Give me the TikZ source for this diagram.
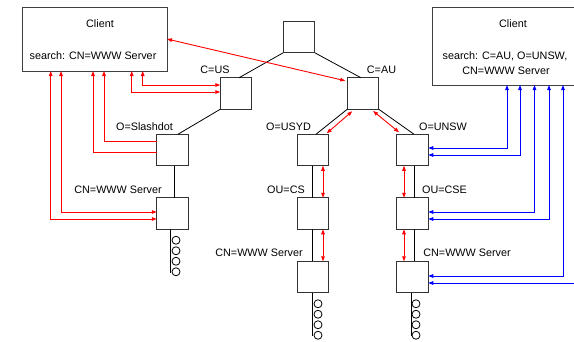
\documentclass[tikz,border=0pt]{standalone}
\usepackage{fontspec}
\setmainfont{Liberation Sans}
\usetikzlibrary{arrows.meta,calc}
\begin{document}
\begin{tikzpicture}[x=1pt,y=-1pt,
  box/.style={draw=black!80,line width=0.9pt,minimum width=31.5pt,minimum height=31.5pt,inner sep=0pt,outer sep=0pt},
  client/.style={draw=black!75,line width=0.95pt,inner sep=0pt,outer sep=0pt},
  lbl/.style={anchor=base,inner sep=0pt,font=\fontsize{10.8}{13}\selectfont},
  tree/.style={draw=black,line width=0.8pt},
  rarr/.style={draw=red,line width=0.9pt,>={Triangle[length=5pt,width=3.6pt]}},
  barr/.style={draw=blue,line width=0.9pt,>={Triangle[length=5pt,width=3.6pt]}},
  leaf/.style={draw=black,line width=0.8pt}]
\useasboundingbox (0,0) rectangle (574,341);
\clip (0,0) rectangle (574,341);
\fill[white] (0,0) rectangle (574,341);
% client boxes
\node[client,minimum width=145pt,minimum height=64pt] (clientL) at (94.5,39) {};
\node[client,minimum width=148pt,minimum height=78pt] (clientR) at (506,46) {};
\node[lbl] (clientLt) at (100,27.8) {Client};
\node[lbl] (clientLs) at (93,59.8) {search: CN=WWW Server};
\node[lbl] (clientRt) at (513,27.8) {Client};
\node[lbl] (clientRs1) at (505,59.8) {search: C=AU, O=UNSW,};
\node[lbl] (clientRs2) at (506,74.1) {CN=WWW Server};
% tree boxes
\node[box] (root) at (299,37) {};
\node[box] (cus) at (236,93.5) {};
\node[box] (cau) at (363,93.5) {};
\node[box] (slash) at (172.5,150) {};
\node[box] (cnL) at (172.5,213.5) {};
\node[box] (usyd) at (313,150) {};
\node[box] (cs) at (313,213.5) {};
\node[box] (cnM) at (313,277) {};
\node[box] (unsw) at (412.5,150) {};
\node[box] (cse) at (412.5,213.5) {};
\node[box] (cnR) at (412.5,277) {};
% labels
\node[lbl] (lcus) at (215,73.8) {C=US};
\node[lbl] (lcau) at (381.5,73.8) {C=AU};
\node[lbl] (lslash) at (144.5,130.8) {O=Slashdot};
\node[lbl] (lcnL) at (118,193.8) {CN=WWW Server};
\node[lbl] (lusyd) at (288.5,130.8) {O=USYD};
\node[lbl] (lunsw) at (443,130.8) {O=UNSW};
\node[lbl] (lcs) at (286,193.8) {OU=CS};
\node[lbl] (lcse) at (444.5,193.8) {OU=CSE};
\node[lbl] (lcnM) at (259,256.8) {CN=WWW Server};
\node[lbl] (lcnR) at (467,256.8) {CN=WWW Server};
% tree lines
\draw[tree] (root.south west) -- ([xshift=3pt]cus.north);
\draw[tree] (root.south east) -- ([xshift=-2pt]cau.north);
\draw[tree] (cus.south west) -- ([xshift=5.5pt]slash.north);
\draw[tree] ([xshift=1.5pt]slash.south) -- ([xshift=1.5pt]cnL.north);
\draw[tree] ([xshift=-2pt]cnL.south) -- ++(0,44);
\draw[tree] (cau.south west) -- ([xshift=3pt]usyd.north);
\draw[tree] (cau.south east) -- ([xshift=1.5pt]unsw.north);
\draw[tree] ([xshift=-1pt]usyd.south) -- ([xshift=-1pt]cs.north);
\draw[tree] ([xshift=-1pt]cs.south) -- ([xshift=-1pt]cnM.north);
\draw[tree] ([xshift=-1pt]cnM.south) -- ++(0,43);
\draw[tree] ([xshift=1.5pt]unsw.south) -- ([xshift=1.5pt]cse.north);
\draw[tree] ([xshift=1.5pt]cse.south) -- ([xshift=1.5pt]cnR.north);
\draw[tree] ([xshift=-1.5pt]cnR.south) -- ++(0,43);
% leaf circles
\foreach \i in {0,...,3} {
  \draw[leaf] ($(cnL.south)+(3.5,11+10.5*\i)$) circle (4pt);
  \draw[leaf] ($(cnM.south)+(5,11+10.5*\i)$) circle (4pt);
  \draw[leaf] ($(cnR.south)+(3.5,11+10.5*\i)$) circle (4pt);
}
% red connectors
\draw[rarr,<->] (clientL.east) -- ([shift={(-2,3)}]cau.north west);
\draw[rarr,<->] ([xshift=48.2pt]clientL.south) |- ([yshift=8.5pt]cus.west);
\draw[rarr,<->] ([xshift=37.2pt]clientL.south) |- ([yshift=1.5pt]cus.west);
\draw[rarr,<-] ([xshift=9.5pt]clientL.south) |- ([yshift=9pt]slash.west);
\draw[rarr,<-] ([xshift=-1.5pt]clientL.south) |- ([yshift=-2pt]slash.west);
\draw[rarr,<->] ([xshift=-33.5pt]clientL.south) |- ([yshift=1.5pt]cnL.west);
\draw[rarr,<->] ([xshift=-43.8pt]clientL.south) |- ([yshift=-5.5pt]cnL.west);
\draw[rarr,<->] ([shift={(5,2)}]cau.south west) -- ([shift={(-2,-1)}]usyd.north east);
\draw[rarr,<->] ([shift={(-5.7,1.7)}]cau.south east) -- ([shift={(2.3,-2)}]unsw.north west);
\draw[rarr,<->] ([xshift=10pt]usyd.south) -- ([xshift=10pt]cs.north);
\draw[rarr,<->] ([xshift=10pt]cs.south) -- ([xshift=10pt]cnM.north);
\draw[rarr,<->] ([xshift=-8.5pt]unsw.south) -- ([xshift=-8.5pt]cse.north);
\draw[rarr,<->] ([xshift=-8.5pt]cse.south) -- ([xshift=-8.5pt]cnR.north);
% blue connectors
\draw[barr,<->] ([xshift=1pt]clientR.south) |- ([yshift=2pt]unsw.east);
\draw[barr,<->] ([xshift=14pt]clientR.south) |- ([yshift=-5pt]unsw.east);
\draw[barr,<->] ([xshift=28.5pt]clientR.south) |- ([yshift=1.5pt]cse.east);
\draw[barr,<->] ([xshift=43pt]clientR.south) |- ([yshift=-5.5pt]cse.east);
\draw[barr,<->] ([xshift=57pt]clientR.south) |- ([yshift=1pt]cnR.east);
\draw[barr,<->] ([xshift=72pt]clientR.south) |- ([yshift=-6pt]cnR.east);
\end{tikzpicture}
\end{document}
